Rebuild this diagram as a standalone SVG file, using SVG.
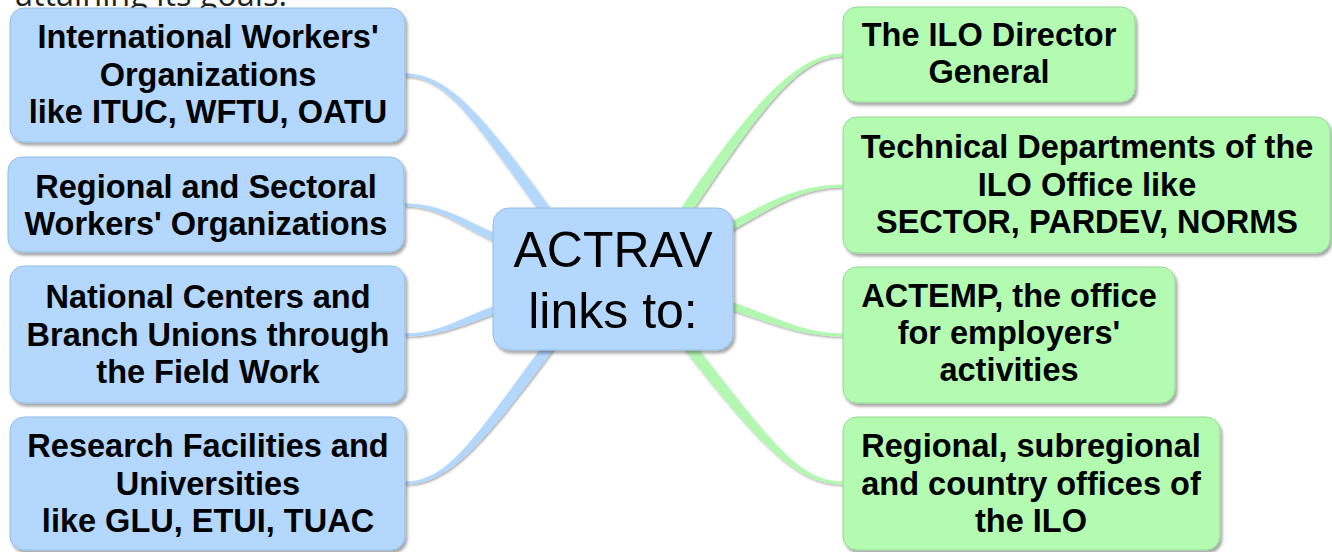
<svg xmlns="http://www.w3.org/2000/svg" width="1332" height="552" viewBox="0 0 1332 552">
<defs>
<filter id="shadow" x="-5%" y="-5%" width="115%" height="120%">
<feDropShadow dx="2" dy="3" stdDeviation="1.5" flood-color="#000" flood-opacity="0.35"/>
</filter>
<filter id="lshadow" x="-10%" y="-10%" width="130%" height="130%">
<feDropShadow dx="1" dy="1.5" stdDeviation="0.8" flood-color="#000" flood-opacity="0.35"/>
</filter>
<style>
.blue{fill:#b3d7fd;stroke:#94bde6;stroke-width:1}
.green{fill:#b3fbb1;stroke:#95d893;stroke-width:1}
.cb{fill:#b3d7fd}
.cg{fill:#b3f8b1}
.t{font-family:"Liberation Sans",Arial,Helvetica,sans-serif;font-weight:bold;font-size:32.5px;fill:#000;text-anchor:middle}
.c{font-family:"Liberation Sans",Arial,Helvetica,sans-serif;font-size:50px;fill:#000;text-anchor:middle}
.top{font-family:"Open Sans","Liberation Sans",sans-serif;font-size:33px;fill:#222}
</style>
</defs>
<rect width="1332" height="552" fill="#fff"/>
<text class="top" x="15" y="6" textLength="272" lengthAdjust="spacingAndGlyphs">attaining its goals:</text>
<g id="connectors" filter="url(#lshadow)">
<path class="cb" d="M405,76.5 C448,76.5 473.6,121.2 543.6,217.2 L552.4,210.8 C482.4,114.8 448,73.5 405,73.5 Z"/>
<path class="cb" d="M405,206.5 C440,206.5 458.4,225.6 498.4,243.6 L501.6,236.4 C461.6,218.4 440,203.5 405,203.5 Z"/>
<path class="cb" d="M405,336.5 C440,336.5 461.3,325.8 501.3,311.8 L498.7,304.2 C458.7,318.2 440,333.5 405,333.5 Z"/>
<path class="cb" d="M405,484.5 C448,484.5 482.4,445.3 554.4,348.3 L545.6,341.7 C473.6,438.7 448,481.5 405,481.5 Z"/>
<path class="cg" d="M843,53.5 C800,53.5 755.4,97 679.4,211 L688.6,217 C764.6,103 800,56.5 843,56.5 Z"/>
<path class="cg" d="M843,184.5 C800,184.5 768.1,201.5 726.1,224.5 L729.9,231.5 C771.9,208.5 800,187.5 843,187.5 Z"/>
<path class="cg" d="M843,333.5 C800,333.5 771.2,314.2 729.2,301.2 L726.8,308.8 C768.8,321.8 800,336.5 843,336.5 Z"/>
<path class="cg" d="M843,481.5 C800,481.5 774.3,446.6 692.3,341.6 L683.7,348.4 C765.7,453.4 800,484.5 843,484.5 Z"/>
</g>
<g id="center">
<rect class="blue" x="493" y="208" width="240" height="142" rx="16" filter="url(#shadow)"/>
<text class="c" x="613" y="267">ACTRAV</text>
<text class="c" x="613" y="328">links to:</text>
</g>
<g id="l1">
<rect class="blue" x="10" y="8" width="395" height="134" rx="14" filter="url(#shadow)"/>
<text class="t" x="208" y="48">International Workers'</text>
<text class="t" x="208" y="85.5">Organizations</text>
<text class="t" x="208" y="123">like ITUC, WFTU, OATU</text>
</g>
<g id="l2">
<rect class="blue" x="8" y="157" width="396" height="95" rx="14" filter="url(#shadow)"/>
<text class="t" x="206" y="198">Regional and Sectoral</text>
<text class="t" x="206" y="235">Workers' Organizations</text>
</g>
<g id="l3">
<rect class="blue" x="10" y="266" width="395" height="137" rx="14" filter="url(#shadow)"/>
<text class="t" x="208" y="308">National Centers and</text>
<text class="t" x="208" y="345.5">Branch Unions through</text>
<text class="t" x="208" y="383">the Field Work</text>
</g>
<g id="l4">
<rect class="blue" x="10" y="417" width="395" height="133" rx="14" filter="url(#shadow)"/>
<text class="t" x="208" y="457">Research Facilities and</text>
<text class="t" x="208" y="494.5">Universities</text>
<text class="t" x="208" y="532"> like GLU, ETUI, TUAC</text>
</g>
<g id="r1">
<rect class="green" x="843" y="7" width="292" height="95" rx="14" filter="url(#shadow)"/>
<text class="t" x="989" y="46">The ILO Director</text>
<text class="t" x="989" y="83">General</text>
</g>
<g id="r2">
<rect class="green" x="843" y="117" width="487" height="136" rx="14" filter="url(#shadow)"/>
<text class="t" x="1087" y="158">Technical Departments of the</text>
<text class="t" x="1087" y="195.5">ILO Office like</text>
<text class="t" x="1087" y="233">SECTOR, PARDEV, NORMS</text>
</g>
<g id="r3">
<rect class="green" x="843" y="267" width="332" height="136" rx="14" filter="url(#shadow)"/>
<text class="t" x="1009" y="307">ACTEMP, the office</text>
<text class="t" x="1009" y="344">for employers'</text>
<text class="t" x="1009" y="381">activities</text>
</g>
<g id="r4">
<rect class="green" x="843" y="417" width="377" height="133" rx="14" filter="url(#shadow)"/>
<text class="t" x="1031" y="457">Regional, subregional</text>
<text class="t" x="1031" y="494.5">and country offices of</text>
<text class="t" x="1031" y="532">the ILO</text>
</g>
</svg>
